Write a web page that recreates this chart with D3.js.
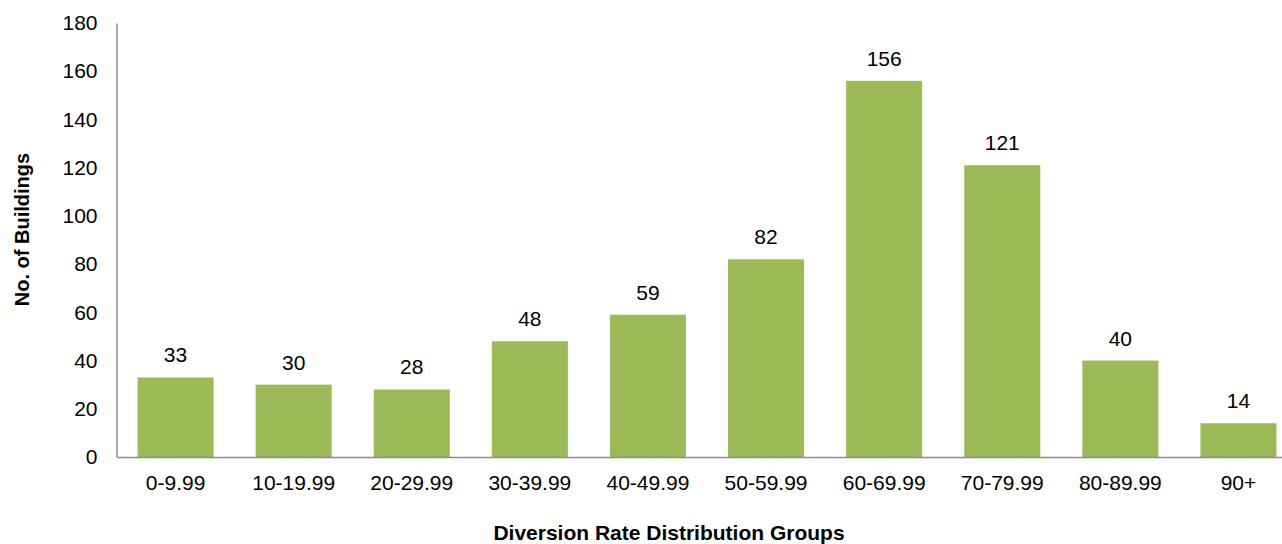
<!DOCTYPE html>
<html>
<head>
<meta charset="utf-8">
<script src="https://cdn.jsdelivr.net/npm/d3@7"></script>
<style>
  html, body { margin: 0; padding: 0; background: #fff; }
  svg { display: block; }
  text { font-family: "Liberation Sans", Arial, sans-serif; fill: #000; }
</style>
</head>
<body>
<svg id="chart" width="1282" height="544"></svg>
<script>
const categories = ["0-9.99","10-19.99","20-29.99","30-39.99","40-49.99","50-59.99","60-69.99","70-79.99","80-89.99","90+"];
const values = [33, 30, 28, 48, 59, 82, 156, 121, 40, 14];
const yTicks = [0, 20, 40, 60, 80, 100, 120, 140, 160, 180];
const xTitle = "Diversion Rate Distribution Groups";
const yTitle = "No. of Buildings";

const svg = d3.select("#chart");
const x0 = 116.5, x1 = 1297.5, yBase = 457, yTop = 23;

const x = d3.scaleBand().domain(categories).range([x0, x1])
  .paddingInner(0.356).paddingOuter(0.178);
const y = d3.scaleLinear().domain([0, 180]).range([yBase, yTop]);

// bars
svg.append("g").selectAll("rect").data(values).join("rect")
  .attr("x", (d, i) => x(categories[i]))
  .attr("width", x.bandwidth())
  .attr("y", d => y(d))
  .attr("height", d => y(0) - y(d))
  .attr("fill", "#9BBB59");

// value labels
svg.append("g").selectAll("text").data(values).join("text")
  .attr("x", (d, i) => x(categories[i]) + x.bandwidth() / 2)
  .attr("y", d => y(d) - 15)
  .attr("text-anchor", "middle")
  .attr("font-size", 21)
  .text(d => d);

// y axis
const yAxis = svg.append("g").attr("transform", `translate(${x0},0)`)
  .call(d3.axisLeft(y).tickValues(yTicks).tickSize(0).tickPadding(19));
yAxis.select(".domain").attr("stroke", "#8c8c8c").attr("stroke-width", 1.5);
yAxis.selectAll("text").attr("font-size", 21)
  .style("font-family", '"Liberation Sans", Arial, sans-serif').attr("fill", "#000");

// x axis
const xAxis = svg.append("g").attr("transform", `translate(0,${yBase})`)
  .call(d3.axisBottom(x).tickSize(0).tickPadding(18));
xAxis.select(".domain").attr("stroke", "#8c8c8c").attr("stroke-width", 1.5);
xAxis.selectAll("text").attr("font-size", 21)
  .style("font-family", '"Liberation Sans", Arial, sans-serif').attr("fill", "#000");

// axis titles
svg.append("text")
  .attr("x", 669).attr("y", 540)
  .attr("text-anchor", "middle")
  .attr("font-size", 21).attr("font-weight", "bold")
  .text(xTitle);

svg.append("text")
  .attr("transform", "translate(28.5,229.5) rotate(-90)")
  .attr("text-anchor", "middle")
  .attr("font-size", 20).attr("font-weight", "bold")
  .text(yTitle);
</script>
</body>
</html>
